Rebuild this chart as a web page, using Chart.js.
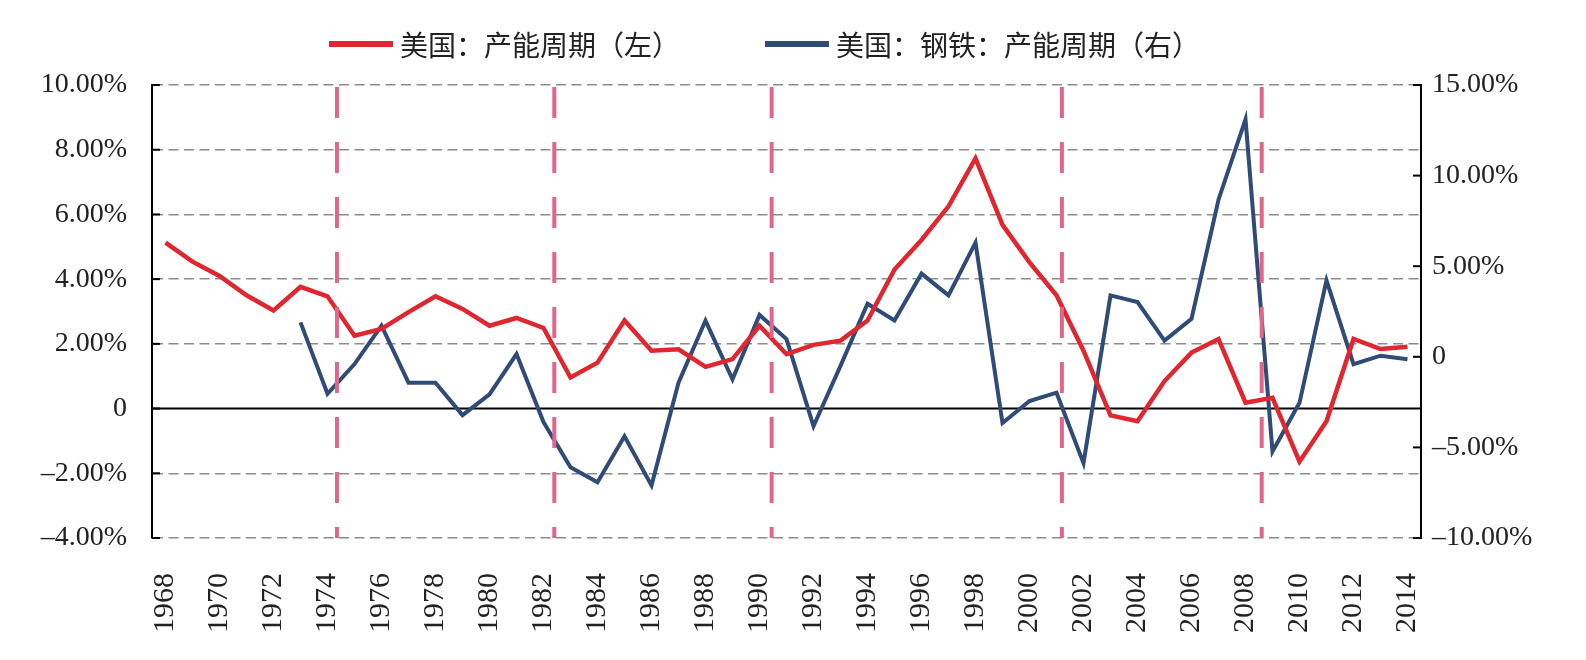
<!DOCTYPE html>
<html>
<head>
<meta charset="utf-8">
<script src="https://cdn.jsdelivr.net/npm/chart.js@4.4.1/dist/chart.umd.min.js"></script>
<style>
  body { margin: 0; background: #fff; }
  #wrap { position: relative; width: 1586px; height: 660px; }
  #legend {
    position: absolute; left: 329px; top: 28px;
    display: flex; gap: 85px;
    font-family: "Noto Sans CJK SC", sans-serif; font-size: 28px; line-height: 32px; color: #222;
  }
  .item { display: flex; align-items: center; }
  .swatch { width: 64px; height: 6px; margin-right: 7px; }
</style>
</head>
<body>
<div id="wrap">
  <canvas id="capacityChart"></canvas>
  <div id="legend"></div>
</div>
<script>
// Data for the chart
const years = ['1968', '1969', '1970', '1971', '1972', '1973', '1974', '1975', '1976', '1977',
    '1978', '1979', '1980', '1981', '1982', '1983', '1984', '1985', '1986', '1987',
    '1988', '1989', '1990', '1991', '1992', '1993', '1994', '1995', '1996', '1997',
    '1998', '1999', '2000', '2001', '2002', '2003', '2004', '2005', '2006', '2007',
    '2008', '2009', '2010', '2011', '2012', '2013', '2014'];

// 美国：产能周期（左）, %
const usCapacity = [5.13, 4.54, 4.10, 3.50, 3.03, 3.76, 3.47, 2.25, 2.46, 2.98,
    3.47, 3.08, 2.56, 2.80, 2.49, 0.96, 1.42, 2.72, 1.79, 1.83,
    1.29, 1.53, 2.56, 1.68, 1.97, 2.10, 2.72, 4.30, 5.21, 6.25,
    7.73, 5.68, 4.52, 3.50, 1.79, -0.21, -0.39, 0.85, 1.73, 2.15,
    0.18, 0.33, -1.64, -0.39, 2.15, 1.84, 1.91];

// 美国：钢铁：产能周期（右）, %
const usSteelCapacity = [null, null, null, null, null, 1.9, -2.04, -0.4, 1.72, -1.43,
    -1.43, -3.22, -2.07, 0.15, -3.6, -6.1, -6.93, -4.39, -7.1, -1.43,
    2.0, -1.24, 2.31, 0.98, -3.83, -0.5, 2.93, 2.0, 4.59, 3.39,
    6.30, -3.65, -2.44, -1.98, -5.87, 3.39, 3.02, 0.89, 2.09, 8.67,
    13.1, -5.22, -2.54, 4.22, -0.41, 0.06, -0.13];

const seriesNames = ['美国：产能周期（左）', '美国：钢铁：产能周期（右）'];
const seriesColors = ['#e0262f', '#2f4b78'];

// recession markers, as fractional years
const recessionMarks = [1974.35, 1982.4, 1990.45, 2001.2, 2008.6];

const leftTicks = { min: -4, max: 10, step: 2 };
const rightTicks = { min: -10, max: 15, step: 5 };

const tickFont = { family: 'Liberation Serif', size: 28 };
const pctLabel = v => v === 0 ? '0' : (v < 0 ? '–' : '') + Math.abs(v).toFixed(2) + '%';

const overlay = {
    id: 'overlay',
    beforeDatasetsDraw(chart) {
        const { ctx, chartArea: a, scales: { y, y2 } } = chart;
        ctx.save();
        ctx.strokeStyle = '#000';
        ctx.lineWidth = 2;
        const y0 = y.getPixelForValue(0);
        ctx.beginPath();
        ctx.moveTo(a.left, y0);
        ctx.lineTo(a.right, y0);
        ctx.stroke();
        // inward tick marks
        y.ticks.forEach(t => {
            const py = y.getPixelForValue(t.value);
            ctx.beginPath();
            ctx.moveTo(a.left, py);
            ctx.lineTo(a.left + 8, py);
            ctx.stroke();
        });
        y2.ticks.forEach(t => {
            const py = y2.getPixelForValue(t.value);
            ctx.beginPath();
            ctx.moveTo(a.right - 8, py);
            ctx.lineTo(a.right, py);
            ctx.stroke();
        });
        ctx.restore();
    },
    afterDatasetsDraw(chart) {
        const { ctx, chartArea: a, scales: { x } } = chart;
        const step = x.getPixelForValue(1) - x.getPixelForValue(0);
        ctx.save();
        ctx.strokeStyle = '#e0668a';
        ctx.lineWidth = 4;
        ctx.setLineDash([31, 24]);
        recessionMarks.forEach(yr => {
            const idx = Math.floor(yr - 1968);
            const px = x.getPixelForValue(idx) + (yr - 1968 - idx) * step;
            ctx.beginPath();
            ctx.moveTo(px, a.top + 2);
            ctx.lineTo(px, a.bottom);
            ctx.stroke();
        });
        ctx.restore();
    }
};

const config = {
    type: 'line',
    data: {
        labels: years,
        datasets: [
            {
                label: seriesNames[0],
                data: usCapacity,
                borderColor: seriesColors[0],
                backgroundColor: seriesColors[0],
                borderWidth: 4.5,
                pointRadius: 0,
                tension: 0,
                yAxisID: 'y'
            },
            {
                label: seriesNames[1],
                data: usSteelCapacity,
                borderColor: seriesColors[1],
                backgroundColor: seriesColors[1],
                borderWidth: 4,
                pointRadius: 0,
                tension: 0,
                yAxisID: 'y2'
            }
        ]
    },
    options: {
        responsive: true,
        maintainAspectRatio: false,
        animation: false,
        layout: { padding: { top: 85, left: 0, right: 0, bottom: 0 } },
        plugins: {
            legend: { display: false },
            tooltip: { enabled: false }
        },
        scales: {
            x: {
                type: 'category',
                offset: true,
                grid: { display: false, drawTicks: false },
                border: { display: false },
                ticks: {
                    autoSkip: false,
                    minRotation: 90,
                    maxRotation: 90,
                    padding: 35,
                    color: '#222',
                    font: { family: 'Liberation Serif', size: 30 },
                    callback: (v, i) => i % 2 === 0 ? years[i] : ''
                },
                afterFit: s => { s.height = 122; }
            },
            y: {
                position: 'left',
                min: leftTicks.min,
                max: leftTicks.max,
                ticks: {
                    stepSize: leftTicks.step,
                    padding: 25,
                    color: '#222',
                    font: tickFont,
                    callback: v => pctLabel(v)
                },
                grid: {
                    color: c => c.tick && c.tick.value === 0 ? 'rgba(0,0,0,0)' : '#8c8c8c',
                    lineWidth: 1.5,
                    drawTicks: false
                },
                border: { color: '#000', width: 2, dash: [10, 5.5] },
                afterFit: s => { s.width = 152; }
            },
            y2: {
                position: 'right',
                min: rightTicks.min,
                max: rightTicks.max,
                ticks: {
                    stepSize: rightTicks.step,
                    padding: 11,
                    color: '#222',
                    font: tickFont,
                    callback: v => pctLabel(v)
                },
                grid: { drawOnChartArea: false, drawTicks: false },
                border: { color: '#000', width: 2 },
                afterFit: s => { s.width = 165; }
            }
        }
    },
    plugins: [overlay]
};

// Legend
const legend = document.getElementById('legend');
seriesNames.forEach((name, i) => {
    const item = document.createElement('div');
    item.className = 'item';
    const sw = document.createElement('span');
    sw.className = 'swatch';
    sw.style.background = seriesColors[i];
    const txt = document.createElement('span');
    txt.textContent = name;
    item.appendChild(sw);
    item.appendChild(txt);
    legend.appendChild(item);
});

const ctxCapacity = document.getElementById('capacityChart').getContext('2d');
new Chart(ctxCapacity, config);
</script>
</body>
</html>
